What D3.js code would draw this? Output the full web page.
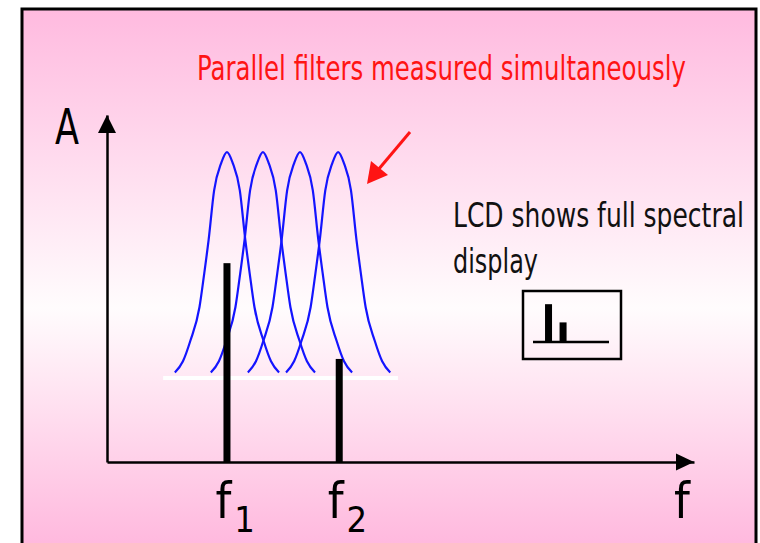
<!DOCTYPE html>
<html>
<head>
<meta charset="utf-8">
<script src="https://cdn.jsdelivr.net/npm/d3@7"></script>
<style>
  html, body { margin: 0; padding: 0; background: #ffffff; }
  svg { display: block; }
  text { font-family: "DejaVu Sans Condensed", "Liberation Sans Narrow", "Arial Narrow", sans-serif; font-stretch: condensed; }
</style>
</head>
<body>
<svg id="chart" width="760" height="543"></svg>
<script>
// ---------------- data ----------------
const signalLabels = ["1", "2"];           // subscripts of f1, f2
const signalFreqs  = [3.27, 6.33];         // frequency positions of the two signals
const signalAmps   = [57.3, 29.7];         // amplitudes of the two signals
const filterCenters = [3.27, 4.25, 5.26, 6.30];   // centre frequencies of parallel filters
const filterBase = 24.5;                   // baseline level of the filter bank
const filterPeak = 89.3;                   // peak level of each filter
const shapeOffsets = [-1.42, -1.20, -1.00, -0.75, -0.62, -0.50, -0.35, -0.16, 0, 0.16, 0.35, 0.50, 0.62, 0.75, 1.00, 1.20, 1.42];
const shapeHeights = [0.02, 0.07, 0.16, 0.31, 0.46, 0.61, 0.83, 0.95, 1, 0.95, 0.83, 0.61, 0.46, 0.31, 0.16, 0.07, 0.02];
const baseLineSpan = [1.53, 7.93];         // white line under the filters
const titleText = "Parallel filters measured simultaneously";
const lcdLines = ["LCD shows full spectral", "display"];
const yAxisLabel = "A";
const xAxisLabel = "f";

// ---------------- setup ----------------
const svg = d3.select("#chart");
const defs = svg.append("defs");
const grad = defs.append("linearGradient").attr("id", "bg")
  .attr("gradientUnits", "userSpaceOnUse")
  .attr("x1", 0).attr("y1", 9).attr("x2", 0).attr("y2", 543);
grad.append("stop").attr("offset", "0").attr("stop-color", "#ffbadf");
grad.append("stop").attr("offset", "0.56").attr("stop-color", "#fffcfd");
grad.append("stop").attr("offset", "1").attr("stop-color", "#ffb9de");

// squeeze a text horizontally so that it spans a given width (condensed face)
function fitWidth(sel, width) {
  const node = sel.node();
  const w = node.getComputedTextLength();
  const x0 = +sel.attr("x");
  const s = width / w;
  sel.attr("transform", `translate(${x0},0) scale(${s},1) translate(${-x0},0)`);
  return sel;
}

// frame
svg.append("rect")
  .attr("x", 22).attr("y", 9).attr("width", 734).attr("height", 560)
  .attr("fill", "url(#bg)").attr("stroke", "#000").attr("stroke-width", 3);

const x = d3.scaleLinear().domain([0, 16]).range([107, 694]);
const y = d3.scaleLinear().domain([0, 100]).range([462, 115]);

// ---------------- filters ----------------
const line = d3.line()
  .x(d => x(d[0]))
  .y(d => y(d[1]))
  .curve(d3.curveMonotoneX);

svg.append("g").selectAll("path")
  .data(filterCenters)
  .join("path")
  .attr("d", c => line(shapeOffsets.map((o, i) => [c + o, filterBase + shapeHeights[i] * (filterPeak - filterBase)])))
  .attr("fill", "none")
  .attr("stroke", "#1414ff")
  .attr("stroke-width", 2.2);

svg.append("line")
  .attr("x1", x(baseLineSpan[0])).attr("x2", x(baseLineSpan[1]))
  .attr("y1", y(filterBase) + 1).attr("y2", y(filterBase) + 1)
  .attr("stroke", "#ffffff").attr("stroke-width", 4);

// ---------------- signals ----------------
svg.append("g").selectAll("rect")
  .data(signalFreqs)
  .join("rect")
  .attr("x", d => x(d) - 3.5)
  .attr("width", 7)
  .attr("y", (d, i) => y(signalAmps[i]))
  .attr("height", (d, i) => y(0) - y(signalAmps[i]))
  .attr("fill", "#000");

// ---------------- axes ----------------
const xAxis = d3.axisBottom(x).tickValues(signalFreqs).tickSize(0).tickSizeOuter(0).tickFormat("");
const gx = svg.append("g").attr("transform", `translate(0,${y(0)})`).call(xAxis);
gx.select(".domain").attr("stroke", "#000").attr("stroke-width", 2.5);
gx.selectAll(".tick").each(function(d, i) {
  const t = d3.select(this).select("text")
    .attr("y", 0).attr("dy", null)
    .attr("text-anchor", "start")
    .attr("fill", "#000");
  t.text(null);
  t.append("tspan").attr("x", -12).attr("y", 56).attr("font-size", 50).text("f");
  t.append("tspan").attr("y", 70).attr("dx", 3).attr("font-size", 36).text(signalLabels[i]);
});

const yAxis = d3.axisLeft(y).tickValues([]).tickSize(0).tickSizeOuter(0);
const gy = svg.append("g").attr("transform", `translate(${x(0)},0)`).call(yAxis);
gy.select(".domain").attr("stroke", "#000").attr("stroke-width", 2.5);

// arrowheads
const [x0, x1] = x.range();
const [yb, yt] = y.range();
svg.append("path")
  .attr("d", `M${x1},${yb} L${x1 - 18},${yb - 8.5} L${x1 - 18},${yb + 8.5} Z`)
  .attr("fill", "#000");
svg.append("path")
  .attr("d", `M${x0},${yt} L${x0 - 9},${yt + 18} L${x0 + 9},${yt + 18} Z`)
  .attr("fill", "#000");

// axis labels
fitWidth(svg.append("text").attr("x", 55).attr("y", 144).attr("font-size", 49).attr("fill", "#000").text(yAxisLabel), 24);
svg.append("text").attr("x", 674).attr("y", 518).attr("font-size", 50).attr("fill", "#000").text(xAxisLabel);

// ---------------- title and red arrow ----------------
fitWidth(svg.append("text")
  .attr("x", 197).attr("y", 80)
  .attr("font-size", 33)
  .attr("fill", "#ff1414")
  .text(titleText), 489);

svg.append("line")
  .attr("x1", 410).attr("y1", 132).attr("x2", 378).attr("y2", 170)
  .attr("stroke", "#ff1414").attr("stroke-width", 3);
svg.append("path")
  .attr("d", "M367,184 L371,161 L388,175 Z")
  .attr("fill", "#ff1414");

// ---------------- LCD note ----------------
fitWidth(svg.append("text")
  .attr("x", 453).attr("y", 227).attr("font-size", 33).attr("fill", "#111")
  .text(lcdLines[0]), 291);
fitWidth(svg.append("text")
  .attr("x", 453).attr("y", 273).attr("font-size", 33).attr("fill", "#111")
  .text(lcdLines[1]), 85);

svg.append("rect")
  .attr("x", 523).attr("y", 291).attr("width", 98).attr("height", 68)
  .attr("fill", "none").attr("stroke", "#000").attr("stroke-width", 2.5);

const mx = d3.scaleLinear().domain(x.domain()).range([533, 609]);
const my = d3.scaleLinear().domain(y.domain()).range([342, 276]);
svg.append("line")
  .attr("x1", mx.range()[0]).attr("x2", mx.range()[1])
  .attr("y1", my(0)).attr("y2", my(0))
  .attr("stroke", "#000").attr("stroke-width", 2.5);
svg.append("g").selectAll("rect")
  .data(signalFreqs)
  .join("rect")
  .attr("x", d => mx(d) - 3.5)
  .attr("width", 7)
  .attr("y", (d, i) => my(signalAmps[i]))
  .attr("height", (d, i) => my(0) - my(signalAmps[i]))
  .attr("fill", "#000");
</script>
</body>
</html>
